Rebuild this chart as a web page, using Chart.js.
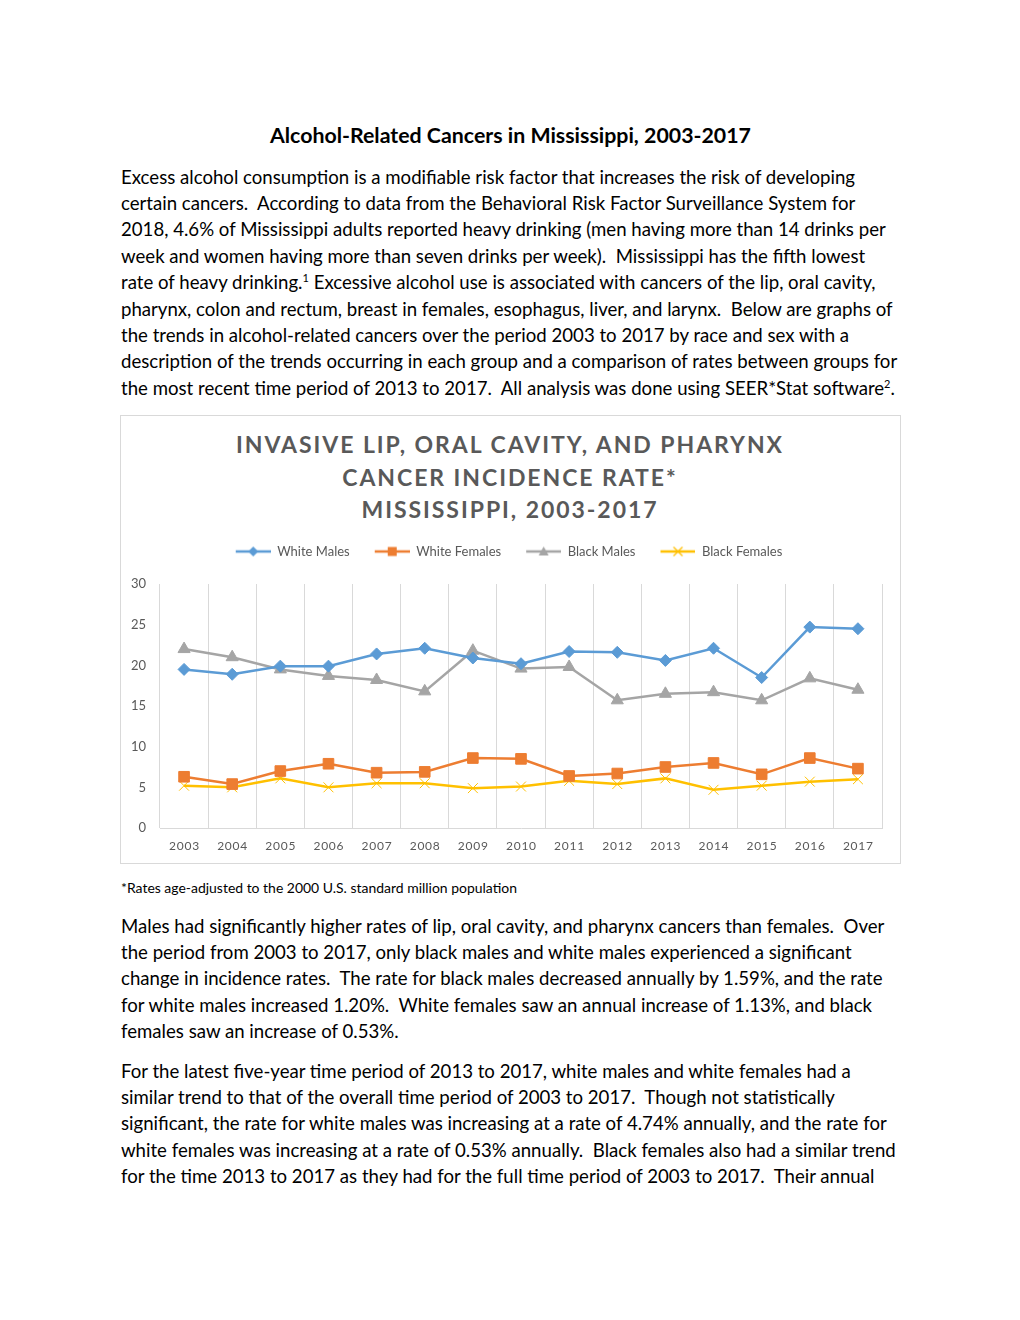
<!DOCTYPE html>
<html>
<head>
<meta charset="utf-8">
<script src="https://cdn.jsdelivr.net/npm/chart.js@4.4.1/dist/chart.umd.min.js"></script>
<style>
  html, body { margin: 0; padding: 0; background: #fff; }
  .page { position: relative; width: 1020px; height: 1320px; font-family: Lato, "Open Sans", sans-serif; color: #000; }
  .heading { position: absolute; left: 0; width: 1020px; top: 123px; text-align: center; font-weight: 700; font-size: 20px; line-height: 24px; white-space: nowrap; }
  .heading span { display: inline-block; }
  .para { position: absolute; left: 121px; font-size: 18.7px; line-height: 26.4px; transform-origin: 0 0; }
  .para div { white-space: nowrap; }
  .para sup { font-size: 11px; line-height: 0; vertical-align: baseline; position: relative; top: -7px; }
  .foot { position: absolute; left: 121px; top: 880px; font-size: 13.3px; line-height: 16px; white-space: nowrap; transform-origin: 0 0; }
  .box { position: absolute; left: 120px; top: 415px; width: 781px; height: 449px; box-sizing: border-box; border: 1px solid #d9d9d9; }
  .ctitle { position: absolute; left: 0; width: 1020px; top: 428px; text-align: center; font-weight: 700; font-size: 23px; line-height: 32.6px; color: #595959; }
  .ctitle div { white-space: nowrap; }
  .chartwrap { position: absolute; left: 121px; top: 535px; width: 778px; height: 327px; }
</style>
</head>
<body>
<div class="page">
  <div class="heading"><span id="heading">Alcohol-Related Cancers in Mississippi, 2003-2017</span></div>

  <div class="para" id="p1" style="top:163.6px">
    <div><span id="ref-line">Excess alcohol consumption is a modifiable risk factor that increases the risk of developing</span></div>
    <div>certain cancers.&nbsp; According to data from the Behavioral Risk Factor Surveillance System for</div>
    <div>2018, 4.6% of Mississippi adults reported heavy drinking (men having more than 14 drinks per</div>
    <div>week and women having more than seven drinks per week).&nbsp; Mississippi has the fifth lowest</div>
    <div>rate of heavy drinking.<sup>1</sup> Excessive alcohol use is associated with cancers of the lip, oral cavity,</div>
    <div>pharynx, colon and rectum, breast in females, esophagus, liver, and larynx.&nbsp; Below are graphs of</div>
    <div>the trends in alcohol-related cancers over the period 2003 to 2017 by race and sex with a</div>
    <div>description of the trends occurring in each group and a comparison of rates between groups for</div>
    <div>the most recent time period of 2013 to 2017.&nbsp; All analysis was done using SEER*Stat software<sup>2</sup>.</div>
  </div>

  <div class="box"></div>
  <div class="ctitle" id="ctitle">
    <div><span id="ct-ref">INVASIVE LIP, ORAL CAVITY, AND PHARYNX</span></div>
    <div>CANCER INCIDENCE RATE*</div>
    <div>MISSISSIPPI, 2003-2017</div>
  </div>
  <div class="chartwrap"><canvas id="rate-chart"></canvas></div>

  <div class="foot" id="foot">*Rates age-adjusted to the 2000 U.S. standard million population</div>

  <div class="para" id="p2" style="top:912.6px">
    <div>Males had significantly higher rates of lip, oral cavity, and pharynx cancers than females.&nbsp; Over</div>
    <div>the period from 2003 to 2017, only black males and white males experienced a significant</div>
    <div>change in incidence rates.&nbsp; The rate for black males decreased annually by 1.59%, and the rate</div>
    <div>for white males increased 1.20%.&nbsp; White females saw an annual increase of 1.13%, and black</div>
    <div>females saw an increase of 0.53%.</div>
  </div>

  <div class="para" id="p3" style="top:1057.6px">
    <div>For the latest five-year time period of 2013 to 2017, white males and white females had a</div>
    <div>similar trend to that of the overall time period of 2003 to 2017.&nbsp; Though not statistically</div>
    <div>significant, the rate for white males was increasing at a rate of 4.74% annually, and the rate for</div>
    <div>white females was increasing at a rate of 0.53% annually.&nbsp; Black females also had a similar trend</div>
    <div>for the time 2013 to 2017 as they had for the full time period of 2003 to 2017.&nbsp; Their annual</div>
  </div>
</div>

<script>
const years = ['2003','2004','2005','2006','2007','2008','2009','2010','2011','2012','2013','2014','2015','2016','2017'];

const whiteMales   = [19.5, 18.9, 19.9, 19.9, 21.4, 22.1, 20.9, 20.2, 21.7, 21.6, 20.6, 22.1, 18.5, 24.7, 24.5];
const whiteFemales = [6.3, 5.4, 7.0, 7.9, 6.8, 6.9, 8.6, 8.5, 6.4, 6.7, 7.5, 8.0, 6.6, 8.6, 7.3];
const blackMales   = [22.0, 21.0, 19.5, 18.7, 18.2, 16.8, 21.8, 19.6, 19.8, 15.7, 16.5, 16.7, 15.7, 18.4, 17.0];
const blackFemales = [5.2, 5.0, 6.1, 5.0, 5.5, 5.5, 4.9, 5.1, 5.8, 5.4, 6.1, 4.7, 5.2, 5.7, 6.0];

const yTicks = [0, 5, 10, 15, 20, 25, 30];

const textGrey = '#595959';
const gridGrey = '#d9d9d9';

// text fitting, the page font is not Calibri so squeeze it to the same widths
function fitWidth(el, box, target) {
  const w = el.getBoundingClientRect().width;
  box.style.transform = 'scaleX(' + (target / w) + ')';
  return target / w;
}

const bodyScale = fitWidth(document.getElementById('ref-line'), document.getElementById('p1'), 734);
document.getElementById('p2').style.transform = 'scaleX(' + bodyScale + ')';
document.getElementById('p3').style.transform = 'scaleX(' + bodyScale + ')';
fitWidth(document.getElementById('foot'), document.getElementById('foot'), 396);
fitWidth(document.getElementById('heading'), document.getElementById('heading'), 481);

const ctRef = document.getElementById('ct-ref');
const ctW = ctRef.getBoundingClientRect().width;
const spacing = (546 - ctW) / (ctRef.textContent.length - 1);
document.getElementById('ctitle').style.letterSpacing = spacing + 'px';

// legend icon: a short line with the marker in the middle, like excel
function legendIcon(color, style) {
  const c = document.createElement('canvas');
  c.width = 50;
  c.height = 16;
  const ctx = c.getContext('2d');
  ctx.strokeStyle = color;
  ctx.fillStyle = color;
  ctx.lineWidth = 2.5;
  ctx.beginPath();
  ctx.moveTo(15, 8);
  ctx.lineTo(50, 8);
  ctx.stroke();
  const x = 32.5, y = 8;
  ctx.beginPath();
  if (style === 'rectRot') {
    ctx.moveTo(x, y - 5); ctx.lineTo(x + 5, y); ctx.lineTo(x, y + 5); ctx.lineTo(x - 5, y);
    ctx.closePath(); ctx.fill();
  } else if (style === 'rect') {
    ctx.rect(x - 4.5, y - 4.5, 9, 9); ctx.fill();
  } else if (style === 'triangle') {
    ctx.moveTo(x, y - 5); ctx.lineTo(x + 5, y + 4); ctx.lineTo(x - 5, y + 4);
    ctx.closePath(); ctx.fill();
  } else {
    ctx.lineWidth = 1.2;
    ctx.moveTo(x - 4.5, y - 4.5); ctx.lineTo(x + 4.5, y + 4.5);
    ctx.moveTo(x + 4.5, y - 4.5); ctx.lineTo(x - 4.5, y + 4.5);
    ctx.stroke();
  }
  return c;
}

function series(label, data, color, style, radius) {
  return {
    label,
    data,
    borderColor: color,
    backgroundColor: color,
    borderWidth: 2.5,
    pointStyle: style,
    pointRadius: radius,
    pointHoverRadius: radius,
    pointBackgroundColor: color,
    pointBorderColor: color,
    pointBorderWidth: 1,
    tension: 0,
    icon: legendIcon(color, style)
  };
}

const legendSpace = {
  id: 'legendSpace',
  beforeInit(chart) {
    const fit = chart.legend.fit;
    chart.legend.fit = function () {
      fit.bind(chart.legend)();
      this.height += 16;
    };
  }
};

const ctx = document.getElementById('rate-chart').getContext('2d');

new Chart(ctx, {
  type: 'line',
  data: {
    labels: years,
    datasets: [
      series('White Males', whiteMales, '#5b9bd5', 'rectRot', 6),
      series('White Females', whiteFemales, '#ed7d31', 'rect', 7.5),
      series('Black Males', blackMales, '#a5a5a5', 'triangle', 7),
      series('Black Females', blackFemales, '#ffc000', 'crossRot', 7)
    ]
  },
  options: {
    responsive: true,
    maintainAspectRatio: false,
    animation: false,
    layout: { padding: { left: 0, right: 17, top: 0, bottom: 0 } },
    plugins: {
      title: { display: false },
      tooltip: { enabled: false },
      legend: {
        position: 'top',
        labels: {
          usePointStyle: true,
          pointStyleWidth: 50,
          padding: 10,
          color: textGrey,
          font: { family: 'Lato', size: 13 },
          generateLabels(chart) {
            const items = Chart.defaults.plugins.legend.labels.generateLabels(chart);
            items.forEach(item => {
              item.pointStyle = chart.data.datasets[item.datasetIndex].icon;
            });
            return items;
          }
        }
      }
    },
    scales: {
      x: {
        type: 'category',
        offset: true,
        grid: { display: true, offset: true, color: gridGrey, lineWidth: 1, drawTicks: false },
        border: { display: true, color: gridGrey },
        ticks: {
          color: textGrey,
          font: { family: 'Lato', size: 12 },
          padding: 11,
          maxRotation: 0,
          autoSkip: false,
          callback: function (v) {
            return this.getLabelForValue(v).split('').join('\u200A');
          }
        },
        afterFit(scale) { scale.height = 34; }
      },
      y: {
        min: yTicks[0],
        max: yTicks[yTicks.length - 1],
        grid: { display: false, drawTicks: false },
        border: { display: false },
        afterBuildTicks(scale) {
          scale.ticks = yTicks.map(v => ({ value: v }));
        },
        ticks: {
          color: textGrey,
          font: { family: 'Lato', size: 13 },
          padding: 14
        },
        afterFit(scale) { scale.width = 39; }
      }
    }
  },
  plugins: [legendSpace]
});
</script>
</body>
</html>
